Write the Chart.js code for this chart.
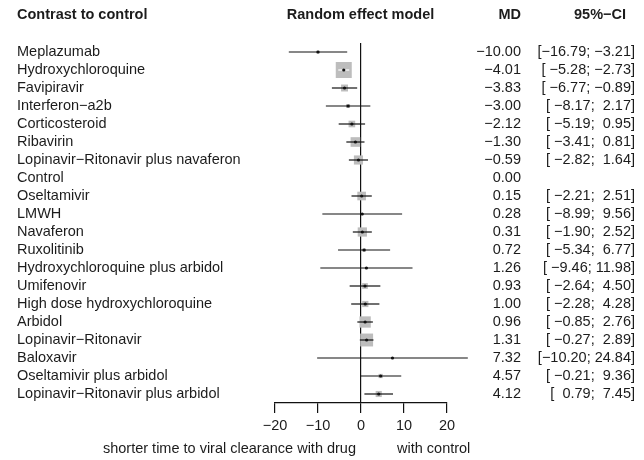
<!DOCTYPE html>
<html>
<head>
<meta charset="utf-8">
<title>Forest plot</title>
<script src="https://cdn.jsdelivr.net/npm/chart.js@4"></script>
<style>
  html, body { margin: 0; padding: 0; background: #fff; }
  canvas { display: block; }
</style>
</head>
<body>
<canvas id="forest" width="644" height="460"></canvas>
<script>
// network meta-analysis: mean difference vs control, random effects

const rowLabels = [
  "Meplazumab",
  "Hydroxychloroquine",
  "Favipiravir",
  "Interferon\u2212a2b",
  "Corticosteroid",
  "Ribavirin",
  "Lopinavir\u2212Ritonavir plus navaferon",
  "Control",
  "Oseltamivir",
  "LMWH",
  "Navaferon",
  "Ruxolitinib",
  "Hydroxychloroquine plus arbidol",
  "Umifenovir",
  "High dose hydroxychloroquine",
  "Arbidol",
  "Lopinavir\u2212Ritonavir",
  "Baloxavir",
  "Oseltamivir plus arbidol",
  "Lopinavir\u2212Ritonavir plus arbidol"
];

const mdValues = [-10.00, -4.01, -3.83, -3.00, -2.12, -1.30, -0.59, 0.00, 0.15, 0.28,
                  0.31, 0.72, 1.26, 0.93, 1.00, 0.96, 1.31, 7.32, 4.57, 4.12];

// control is the reference, no interval
const ciLower = [-16.79, -5.28, -6.77, -8.17, -5.19, -3.41, -2.82, null, -2.21, -8.99,
                 -1.90, -5.34, -9.46, -2.64, -2.28, -0.85, -0.27, -10.20, -0.21, 0.79];
const ciUpper = [-3.21, -2.73, -0.89, 2.17, 0.95, 0.81, 1.64, null, 2.51, 9.56,
                 2.52, 6.77, 11.98, 4.50, 4.28, 2.76, 2.89, 24.84, 9.36, 7.45];

const xTicks = [-20, -10, 0, 10, 20];

const headers = ["Contrast to control", "Random effect model", "MD", "95%\u2212CI"];
const labelLeft = "shorter time to viral clearance with drug";
const labelRight = "with control";

// ---- helpers ----
const FONT = '"Liberation Sans", Arial, Helvetica, sans-serif';
const TEXT_COLOR = "#1c1c1c";
const MAX_SQUARE = 16; // px, side of the most precise estimate

const minus = s => s.replace(/-/g, "\u2212");
const fmt = v => minus(v.toFixed(2));
const padLeft = (s, n) => " ".repeat(Math.max(0, n - s.length)) + s;

const withCI = rowLabels.map((_, i) => i).filter(i => ciLower[i] !== null);
const ciWidth = i => ciUpper[i] - ciLower[i];
const narrowest = Math.min(...withCI.map(ciWidth));
const squareSide = i => MAX_SQUARE * narrowest / ciWidth(i);

const lowW = Math.max(...withCI.map(i => ciLower[i].toFixed(2).length));
const upW = Math.max(...withCI.map(i => ciUpper[i].toFixed(2).length));
function ciText(i) {
  if (ciLower[i] === null) return "";
  const lo = padLeft(ciLower[i].toFixed(2), lowW);
  const hi = padLeft(ciUpper[i].toFixed(2), upW);
  return minus("[" + lo + "; " + hi + "]");
}

// ---- datasets ----
const squareData = withCI.map(i => ({ x: mdValues[i], y: i }));
const squareRadius = withCI.map(i => squareSide(i) / Math.SQRT2);

// one segment per row, NaN point breaks the line
const ciData = withCI.flatMap(i => [
  { x: ciLower[i], y: i },
  { x: ciUpper[i], y: i },
  { x: NaN, y: NaN }
]);

// text columns, headers and axis captions
const textColumns = {
  id: "textColumns",
  afterDraw(chart) {
    const { ctx, scales: { y } } = chart;
    ctx.save();
    ctx.fillStyle = TEXT_COLOR;
    ctx.textBaseline = "middle";

    ctx.font = "bold 14.5px " + FONT;
    ctx.textAlign = "left";
    ctx.fillText(headers[0], 17, 15);
    ctx.textAlign = "center";
    ctx.fillText(headers[1], 360.5, 15);
    ctx.textAlign = "right";
    ctx.fillText(headers[2], 521, 15);
    ctx.fillText(headers[3], 626, 15);

    ctx.font = "14.5px " + FONT;
    rowLabels.forEach((name, i) => {
      const py = y.getPixelForValue(i);
      ctx.textAlign = "left";
      ctx.fillText(name, 17, py);
      ctx.textAlign = "right";
      ctx.fillText(fmt(mdValues[i]), 521, py);
      ctx.fillText(ciText(i), 635, py);
    });

    ctx.textAlign = "right";
    ctx.fillText(labelLeft, 356, 449);
    ctx.textAlign = "left";
    ctx.fillText(labelRight, 397, 449);
    ctx.restore();
  }
};

new Chart(document.getElementById("forest"), {
  type: "scatter",
  data: {
    datasets: [
      {
        label: "weight",
        data: squareData,
        pointStyle: "rect",
        pointRadius: squareRadius,
        pointBackgroundColor: "#bdbdbd",
        pointBorderWidth: 0,
        order: 3
      },
      {
        label: "95% CI",
        data: ciData,
        showLine: true,
        spanGaps: false,
        pointRadius: 0,
        borderWidth: 1.2,
        borderColor: "#111",
        clip: false,
        segment: {
          // line hidden inside a bigger square gets drawn white
          borderColor: c => {
            const row = withCI[Math.floor(c.p0DataIndex / 3)];
            return (c.p1.x - c.p0.x) < squareSide(row) ? "#ffffff" : "#111";
          }
        },
        order: 2
      },
      {
        label: "MD",
        data: squareData,
        pointStyle: "circle",
        pointRadius: 1.6,
        pointBackgroundColor: "#111",
        pointBorderWidth: 0,
        order: 1
      }
    ]
  },
  options: {
    responsive: false,
    devicePixelRatio: 1,
    animation: false,
    events: [],
    layout: { padding: { left: 275, right: 197, top: 43, bottom: 0 } },
    plugins: { legend: { display: false }, tooltip: { enabled: false } },
    scales: {
      x: {
        type: "linear",
        min: xTicks[0],
        max: xTicks[xTicks.length - 1],
        afterFit: s => { s.height = 57; },
        afterBuildTicks: s => { s.ticks = xTicks.map(v => ({ value: v })); },
        border: { display: true, color: "#111", width: 1.2 },
        grid: {
          drawOnChartArea: true,
          color: c => (c.tick && c.tick.value === 0) ? "#111" : "rgba(0,0,0,0)",
          tickColor: "#111",
          tickLength: 10,
          lineWidth: 1.2
        },
        ticks: {
          padding: 4,
          color: TEXT_COLOR,
          font: { family: FONT, size: 14.5 },
          callback: v => minus(String(v))
        }
      },
      y: {
        type: "linear",
        display: false,
        reverse: true,
        min: -0.5,
        max: rowLabels.length - 0.5
      }
    }
  },
  plugins: [textColumns]
});
</script>
</body>
</html>
